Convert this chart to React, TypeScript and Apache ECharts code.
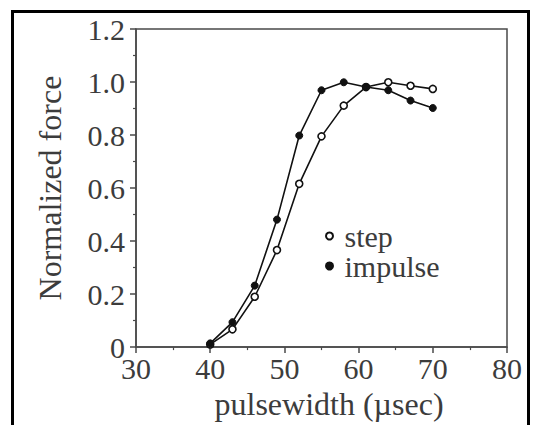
import React, { useEffect, useRef } from "react";
import * as echarts from "echarts";

const pulsewidth = [40, 43, 46, 49, 52, 55, 58, 61, 64, 67, 70];
const stepValues = [0.01, 0.067, 0.19, 0.366, 0.616, 0.795, 0.911, 0.981, 0.999, 0.986, 0.974];
const impulseValues = [0.014, 0.094, 0.232, 0.481, 0.798, 0.969, 0.999, 0.981, 0.969, 0.93, 0.902];
const xTitle = "pulsewidth (\u00b5sec)";
const yTitle = "Normalized force";

const FONT = "Liberation Serif";
const TEXT = "#3c3c3c";
const AXIS = "#4a4a4a";

export default function App() {
  const ref = useRef<HTMLDivElement>(null);
  useEffect(() => {
    document.body.style.margin = "0";
    const chart = echarts.init(ref.current!, null, { renderer: "svg" });
    const pair = (vals: number[]) => pulsewidth.map((x, i) => [x, vals[i]]);
    chart.setOption({
      animation: false,
      backgroundColor: "#ffffff",
      grid: {
        left: 136,
        right: 29,
        top: 29,
        bottom: 77,
        show: true,
        borderColor: AXIS,
        borderWidth: 1.5,
      },
      legend: {
        left: 325,
        top: 221,
        padding: 0,
        orient: "vertical",
        itemWidth: 10,
        itemHeight: 7,
        itemGap: 0,
        textStyle: {
          fontFamily: FONT,
          fontSize: 30,
          color: TEXT,
          lineHeight: 29,
          padding: [0, 0, 0, 5],
        },
        data: [
          { name: "step", icon: "circle", itemStyle: { color: "#fff", borderColor: "#111", borderWidth: 2 } },
          { name: "impulse", icon: "circle", itemStyle: { color: "#111", borderColor: "#111" } },
        ],
      },
      xAxis: {
        type: "value",
        min: 30,
        max: 80,
        interval: 10,
        name: xTitle,
        nameLocation: "middle",
        nameGap: 39,
        nameTextStyle: { fontFamily: FONT, fontSize: 32, color: TEXT, padding: [0, 0, 0, 15] },
        axisLine: { show: true, lineStyle: { color: AXIS, width: 1.5 } },
        axisTick: { show: true, inside: false, length: 6, lineStyle: { color: AXIS, width: 1.5 } },
        minorTick: { show: true, splitNumber: 2, length: 3, lineStyle: { color: AXIS, width: 1.2 } },
        axisLabel: { fontFamily: FONT, fontSize: 30, color: TEXT, margin: 6 },
        splitLine: { show: false },
      },
      yAxis: {
        type: "value",
        min: 0,
        max: 1.2,
        interval: 0.2,
        name: yTitle,
        nameLocation: "middle",
        nameGap: 70,
        nameTextStyle: { fontFamily: FONT, fontSize: 32, color: TEXT },
        axisLine: { show: true, lineStyle: { color: AXIS, width: 1.5 } },
        axisTick: { show: true, inside: false, length: 6, lineStyle: { color: AXIS, width: 1.5 } },
        minorTick: { show: true, splitNumber: 2, length: 3, lineStyle: { color: AXIS, width: 1.2 } },
        axisLabel: {
          fontFamily: FONT,
          fontSize: 30,
          color: TEXT,
          margin: 11,
          formatter: (v: number) => (v === 0 ? "0" : v.toFixed(1)),
        },
        splitLine: { show: false },
      },
      series: [
        {
          name: "step",
          type: "line",
          data: pair(stepValues),
          symbol: "circle",
          symbolSize: 7,
          lineStyle: { color: "#111", width: 1.6 },
          itemStyle: { color: "#fff", borderColor: "#111", borderWidth: 1.6 },
          z: 3,
        },
        {
          name: "impulse",
          type: "line",
          data: pair(impulseValues),
          symbol: "circle",
          symbolSize: 7,
          lineStyle: { color: "#111", width: 1.6 },
          itemStyle: { color: "#111", borderColor: "#111", borderWidth: 1 },
          z: 4,
        },
      ],
      graphic: [
        {
          type: "polyline",
          shape: { points: [[12.5, 425], [12.5, 11.5], [528.5, 11.5], [528.5, 425]] },
          style: { stroke: "#000", lineWidth: 3, fill: "none" },
          silent: true,
        },
      ],
    });
    return () => chart.dispose();
  }, []);
  return <div ref={ref} style={{ width: 536, height: 425 }} />;
}
